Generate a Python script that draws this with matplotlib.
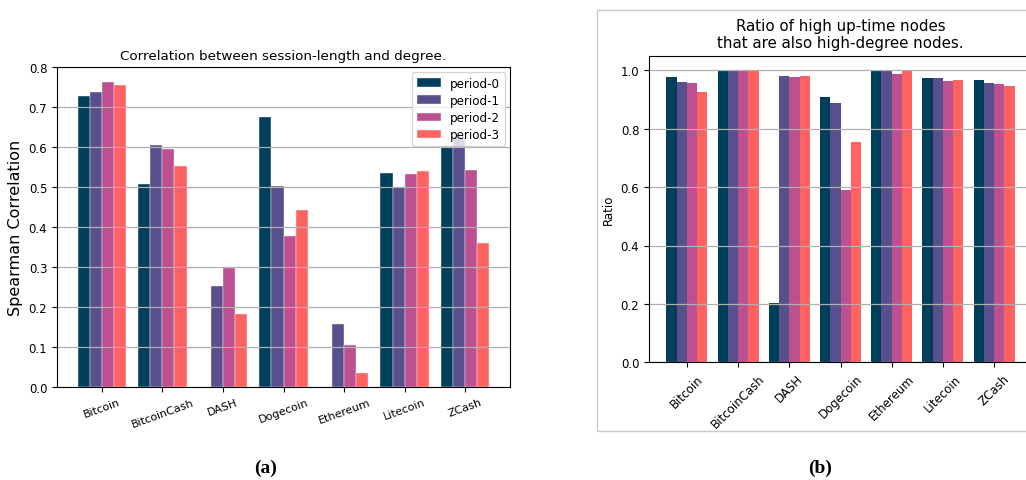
import numpy as np
import matplotlib
matplotlib.use('Agg')
import matplotlib.pyplot as plt
from matplotlib.patches import Rectangle

coins = ['Bitcoin', 'BitcoinCash', 'DASH', 'Dogecoin', 'Ethereum', 'Litecoin', 'ZCash']
periods = ['period-0', 'period-1', 'period-2', 'period-3']
colors = ['#003f5c', '#58508d', '#bc5090', '#ff6361']

# (a) spearman correlation, one list per period
corr_p0 = [0.727, 0.508, 0.0, 0.676, 0.0, 0.536, 0.602]
corr_p1 = [0.738, 0.606, 0.252, 0.502, 0.157, 0.499, 0.625]
corr_p2 = [0.762, 0.595, 0.297, 0.377, 0.105, 0.533, 0.543]
corr_p3 = [0.756, 0.553, 0.183, 0.442, 0.036, 0.539, 0.360]

# (b) ratio of high up-time nodes that are high-degree
ratio_p0 = [0.977, 1.0, 0.203, 0.907, 1.0, 0.973, 0.967]
ratio_p1 = [0.961, 1.0, 0.979, 0.887, 1.0, 0.973, 0.955]
ratio_p2 = [0.958, 1.0, 0.976, 0.589, 0.986, 0.963, 0.952]
ratio_p3 = [0.927, 1.0, 0.979, 0.754, 1.0, 0.967, 0.945]

W, H = 1026, 481
fig = plt.figure(figsize=(W / 100, H / 100), dpi=100)

def px(l, r, t, b):
    return [l / W, (H - b) / H, (r - l) / W, (b - t) / H]

x = np.arange(len(coins))
w = 0.2

# ---- left panel
ax1 = fig.add_axes(px(57, 510, 68, 388))
for i, vals in enumerate([corr_p0, corr_p1, corr_p2, corr_p3]):
    ax1.bar(x + (i - 1.5) * w, vals, w, color=colors[i], label=periods[i],
            edgecolor='#f4f4f4', linewidth=0.3)
ax1.yaxis.grid(True, color='#b0b0b0', linewidth=0.9)
ax1.set_ylim(0, 0.8)
ax1.set_xticks(x)
ax1.set_xticklabels(coins, rotation=20, fontsize=8)
ax1.tick_params(axis='y', labelsize=8.5)
ax1.set_ylabel('Spearman Correlation', fontsize=11.5)
ax1.set_title('Correlation between session-length and degree.', fontsize=9.7)
ax1.legend(loc='upper right', fontsize=8.6, labelspacing=0.35, borderaxespad=0.4)

# ---- right panel (framed screenshot)
fig.patches.append(Rectangle((597 / W, (H - 432) / H), 440 / W, 421 / H,
                             transform=fig.transFigure, fill=False,
                             edgecolor='#c8c8c8', linewidth=1))
ax2 = fig.add_axes(px(649, 1032, 56.7, 363.3))
for i, vals in enumerate([ratio_p0, ratio_p1, ratio_p2, ratio_p3]):
    ax2.bar(x + (i - 1.5) * w, vals, w, color=colors[i], label=periods[i])
ax2.yaxis.grid(True, color='#b0b0b0', linewidth=0.9)
ax2.set_xticks(x)
ax2.set_xticklabels(coins, rotation=45, fontsize=8.5)
ax2.tick_params(axis='y', labelsize=8.5)
ax2.set_ylabel('Ratio', fontsize=8.5)
ax2.set_title('Ratio of high up-time nodes\nthat are also high-degree nodes.', fontsize=10.8)

fig.text(266 / W, 1 - 468 / H, '(a)', ha='center', va='center', fontsize=14,
         fontweight='bold', family='Liberation Serif')
fig.text(820 / W, 1 - 468 / H, '(b)', ha='center', va='center', fontsize=14,
         fontweight='bold', family='Liberation Serif')

fig.savefig('out.png', dpi=100)
